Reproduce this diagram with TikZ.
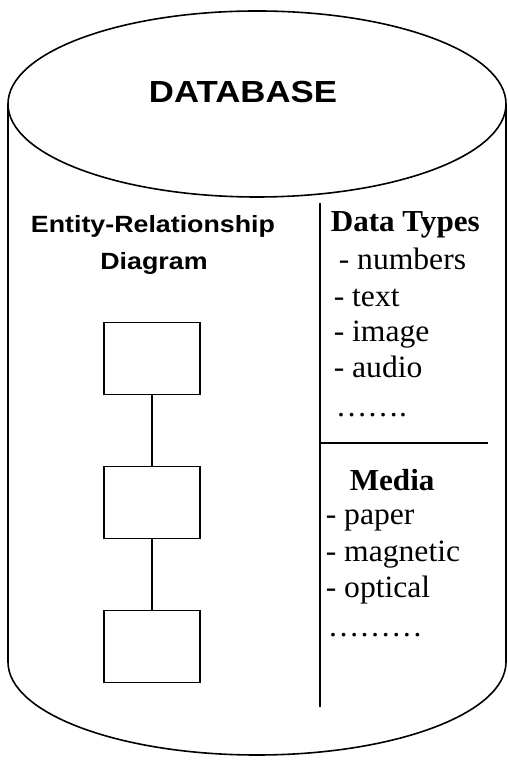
\documentclass[tikz,border=0pt]{standalone}
\usepackage{fontspec}
\usepackage{tikz}
\setmainfont[FakeStretch=1.02]{Liberation Serif}
\newfontfamily\dbfont[FakeStretch=1.14]{Liberation Sans}
\usetikzlibrary{scopes}
\usetikzlibrary{calc}

\tikzset{
    entbox/.style={draw, line width=1.6pt, minimum width=96pt, minimum height=72pt, inner sep=0pt},
    listitem/.style={anchor=base west, inner sep=0pt, font=\fontsize{31}{36}\selectfont},
    listhead/.style={listitem, font=\fontsize{30.5}{36}\selectfont\bfseries}
}

\begin{document}
\begin{tikzpicture}[x=1pt, y=1pt]
        \useasboundingbox (0,0) rectangle (507,762);
        \begin{scope}[line width=1.6pt]

            \draw (257,658) ellipse [x radius=249, y radius=93];
            \draw (8,658) -- (8,100) arc[start angle=180, end angle=360, x radius=249, y radius=93] -- (506,658);
            \node[anchor=base, inner sep=0pt, font=\dbfont\fontsize{30.5}{36}\selectfont\bfseries] (dbtitle) at (243,659) {DATABASE};

            \coordinate (divtop) at (320,559);
            \coordinate (divbot) at (320,55);
            \coordinate (divmid) at (320,319);
            \coordinate (divend) at (488,319);
            \draw (divtop) -- (divbot);
            \draw (divmid) -- (divend);

            \node[anchor=base, inner sep=0pt, font=\dbfont\fontsize{23.5}{28}\selectfont\bfseries] (ertitle) at (153,529) {Entity-Relationship};
            \node[anchor=base, inner sep=0pt, font=\dbfont\fontsize{23.5}{28}\selectfont\bfseries] (erdiag) at (154,492) {Diagram};

            \node[entbox] (ent1) at (152,403.5) {};
            \node[entbox] (ent2) at (152,259.5) {};
            \node[entbox] (ent3) at (152,115.5) {};
            \draw (ent1) -- (ent2);
            \draw (ent2) -- (ent3);

            \node[listhead] (types) at (330,530) {Data Types};
            \node[listitem] (numbers) at (338,492) {- numbers};
            \node[listitem] (text) at (333,455) {- text};
            \node[listitem] (image) at (333,420) {- image};
            \node[listitem] (audio) at (333,384) {- audio};
            \node[listitem] (moretypes) at (335,345) {…….};

            \node[listhead] (media) at (349,271) {Media};
            \node[listitem] (paper) at (325,237) {- paper};
            \node[listitem] (magnetic) at (325,200) {- magnetic};
            \node[listitem] (optical) at (325,164) {- optical};
            \node[listitem] (moremedia) at (327,125) {………};

        \end{scope}
    \end{tikzpicture}
\end{document}
